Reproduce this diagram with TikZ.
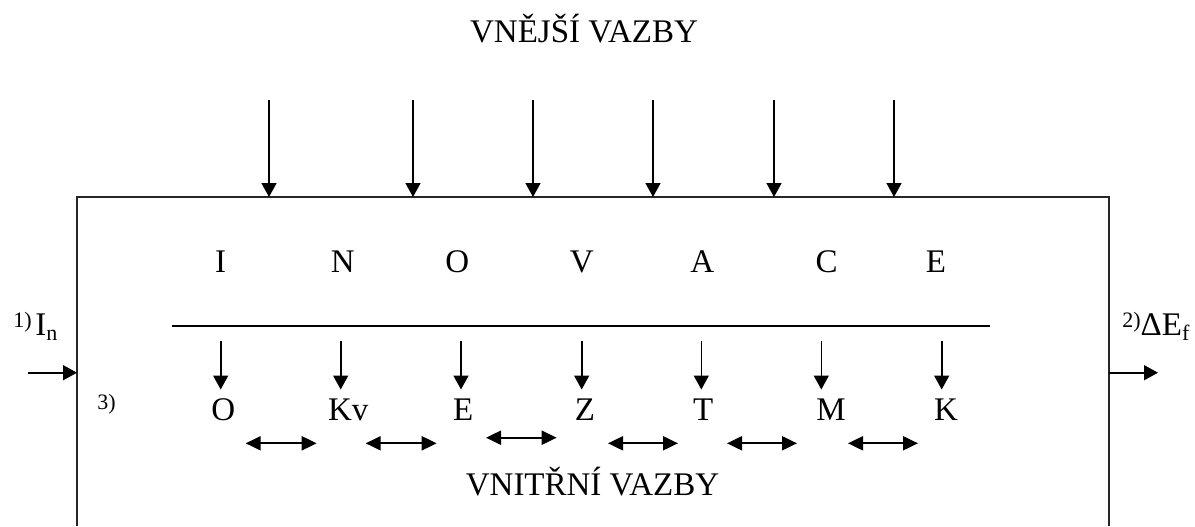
\documentclass[tikz,border=0pt]{standalone}
\usepackage{fontspec}
\setmainfont{Liberation Serif}
\usetikzlibrary{arrows.meta}
\begin{document}
\begin{tikzpicture}[x=0.5pt,y=-0.5pt,
  big/.style={font=\fontsize{16.5}{18}\selectfont, inner sep=0pt, anchor=base},
  small/.style={font=\fontsize{11}{12}\selectfont, inner sep=0pt, anchor=base west},
  frame/.style={line width=0.8pt, draw=black!85},
  rule/.style={line width=0.8pt},
  arr/.style={line width=0.8pt, -{Triangle[width=7.5pt,length=7pt]}},
  biarr/.style={line width=1pt, {Triangle[width=7pt,length=7.5pt]}-{Triangle[width=7pt,length=7.5pt]}}]
\useasboundingbox (0,0) rectangle (1195,526);

% system boundary (open at the bottom)
\draw[frame] (77,526) -- (77,197) -- (1109,197) -- (1109,526);

% headings
\node[big] (ext) at (584,42.7) {VNĚJŠÍ VAZBY};
\node[big] (int) at (592.5,495) {VNITŘNÍ VAZBY};

% external influences entering the system
\foreach \x [count=\i] in {269,413,533,653,774,894}{
  \coordinate (e\i) at (\x,100);
  \coordinate (b\i) at (\x,197);
  \draw[arr] (e\i) -- (b\i);
}

% INOVACE row
\foreach \x/\t [count=\i] in {220.7/I,342.7/N,457.3/O,581.7/V,702.3/A,826.7/C,936/E}
  \node[big] (top\i) at (\x,272.7) {\t};

% dividing rule
\coordinate (rl) at (172,325.7);
\coordinate (rr) at (990,325.7);
\draw[rule] (rl) -- (rr);

% second row of letters
\foreach \x/\t [count=\i] in {223.3/O,348.3/Kv,463.3/E,585/Z,703.3/T,831/M,946/K}
  \node[big] (bot\i) at (\x,420.7) {\t};

% arrows from the rule to the second row
\foreach \x [count=\i] in {220.7,340.7,461,581.7,701.3,821.3,941.7}{
  \coordinate (ds\i) at (\x,341);
  \coordinate (dt\i) at (\x,389.5);
  \draw[arr] (ds\i) -- (dt\i);
}

% internal links between neighbours
\foreach \a/\b/\y [count=\i] in {245.7/316.7/443.3,365.7/436.7/443.3,486/556.7/437.7,608/678/443.3,727/797/443.3,848/918/443.3}{
  \coordinate (la\i) at (\a,\y);
  \coordinate (lb\i) at (\b,\y);
  \draw[biarr] (la\i) -- (lb\i);
}

% input and output
\coordinate (inS) at (28,372.7);
\coordinate (inE) at (77,372.7);
\draw[arr] (inS) -- (inE);
\coordinate (outS) at (1109,372.7);
\coordinate (outE) at (1158,372.7);
\draw[arr] (outS) -- (outE);

\node[small] (lin) at (13,335) {\raisebox{4pt}{1)}\,\fontsize{16.5}{18}\selectfont I\raisebox{-2.5pt}{\fontsize{11}{12}\selectfont n}};
\node[small] (lout) at (1122,335) {\raisebox{4pt}{2)}\fontsize{16.5}{18}\selectfont ΔE\raisebox{-2.5pt}{\fontsize{11}{12}\selectfont f}};
\node[small] (l3) at (97,409) {3)};
\end{tikzpicture}
\end{document}
